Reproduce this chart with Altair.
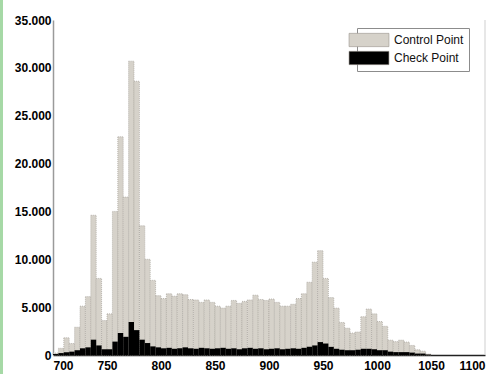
import altair as alt
import pandas as pd

# Histogram bins (wavelength, nm): 5 nm wide, starting at 700
bin_width = 5
bin_starts = list(range(700, 1050, bin_width))

# Counts per bin
control_counts = [
    200, 700, 1800, 1200, 2900, 5100, 6100, 14600, 8000, 3600,
    4300, 15000, 22800, 16500, 30700, 28600, 13500, 10000, 7800, 6200,
    5900, 6400, 6150, 6400, 6300, 5800, 5750, 5500, 5750, 5500,
    5100, 4900, 5100, 5700, 5400, 5600, 5750, 6250, 5800, 5700,
    5850, 5500, 5100, 5100, 5300, 5900, 6400, 7600, 9700, 10900,
    8000, 6000, 4900, 3400, 2800, 2300, 2400, 4000, 4800, 4300,
    3500, 3000, 1550, 1400, 1550, 1350, 1000, 550, 400, 100,
]
check_counts = [
    100, 200, 300, 350, 500, 700, 800, 1600, 1000, 600,
    600, 1400, 2300, 1900, 3450, 2600, 1600, 1250, 900, 800,
    700, 750, 650, 700, 800, 700, 650, 750, 700, 650,
    700, 750, 650, 700, 600, 700, 750, 650, 700, 600,
    650, 700, 600, 650, 700, 650, 750, 850, 1000, 1350,
    1200, 850, 650, 550, 500, 500, 550, 650, 650, 600,
    500, 500, 350, 300, 300, 300, 250, 150, 150, 50,
]

series_names = ["Control Point", "Check Point"]
series_colors = ["#d6d2ca", "#000000"]

x_ticks = [700, 750, 800, 850, 900, 950, 1000, 1050, 1100]
y_ticks = [0, 5000, 10000, 15000, 20000, 25000, 30000, 35000]

rows = []
for name, counts in zip(series_names, [control_counts, check_counts]):
    for start, c in zip(bin_starts, counts):
        rows.append({"start": start, "end": start + bin_width, "count": c, "series": name})
df = pd.DataFrame(rows)

color = alt.Color(
    "series:N",
    scale=alt.Scale(domain=series_names, range=series_colors),
    legend=alt.Legend(
        title=None,
        orient="none",
        legendX=304,
        legendY=8,
        padding=5,
        fillColor="white",
        strokeColor="#8c8c8c",
        symbolType="M-3,-1L3,-1L3,1L-3,1Z",
        symbolSize=177,
        symbolStrokeColor="#9a968f",
        symbolStrokeWidth=0.6,
        symbolOpacity=1,
        labelFont="Liberation Sans",
        labelFontSize=12,
        labelColor="#111111",
        labelOffset=18,
        rowPadding=2,
    ),
)

x_enc = alt.X(
    "start:Q",
    scale=alt.Scale(domain=[700, 1100], nice=False, zero=False),
    axis=alt.Axis(
        values=x_ticks, title=None, format="d", grid=False,
        domainColor="#222222", domainWidth=1.5, tickSize=0,
        labelPadding=5,
    ),
)
y_enc = alt.Y(
    "count:Q",
    scale=alt.Scale(domain=[0, 35000], nice=False),
    axis=alt.Axis(
        values=y_ticks, title=None, grid=False,
        labelExpr="replace(format(datum.value, ','), ',', '.')",
        domainColor="#9a9a9a", domainWidth=1.5, tickSize=0,
        labelPadding=2,
    ),
)

control = (
    alt.Chart(df)
    .transform_filter(alt.datum.series == "Control Point")
    .mark_bar(stroke="#a7a39c", strokeWidth=0.7, strokeDash=[1, 1], opacity=1)
    .encode(x=x_enc, x2="end:Q", y=y_enc, y2=alt.datum(0), color=color)
)
check = (
    alt.Chart(df)
    .transform_filter(alt.datum.series == "Check Point")
    .mark_bar(strokeWidth=0, opacity=1)
    .encode(x="start:Q", x2="end:Q", y="count:Q", y2=alt.datum(0), color=color)
)

# right-hand frame line at the end of the x range
frame = (
    alt.Chart(pd.DataFrame({"xr": [1100]}))
    .mark_rule(color="#cfcfcf", strokeWidth=1)
    .encode(x="xr:Q")
)

# thin green edge strip
edge = (
    alt.Chart(pd.DataFrame({"k": [0]}))
    .mark_rect(color="#a6d9a6")
    .encode(x=alt.value(-53), x2=alt.value(-50), y=alt.value(-20), y2=alt.value(354))
)

chart = (
    alt.layer(edge, control, check, frame)
    .properties(
        width=432,
        height=335,
        autosize=alt.AutoSizeParams(type="none"),
        padding={"left": 53, "top": 20, "right": 7, "bottom": 19},
        background="white",
    )
    .configure_view(stroke=None)
    .configure_axis(
        labelFont="Liberation Sans",
        labelFontWeight="bold",
        labelFontSize=12,
        labelColor="#000000",
    )
)

chart.save("out.html", embed_options={"renderer": "svg", "actions": False})
